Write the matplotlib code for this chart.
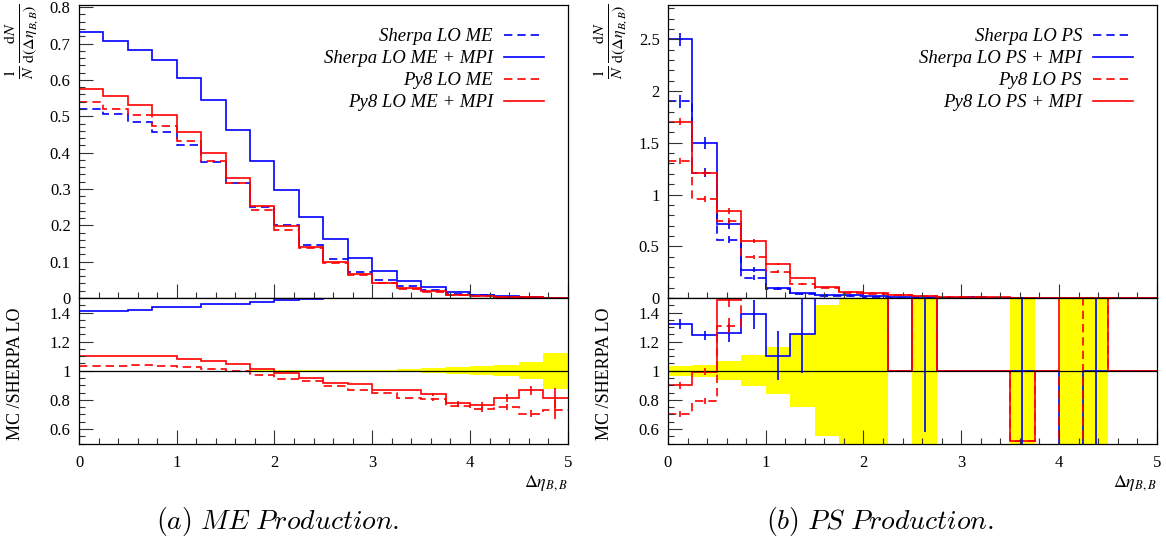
import numpy as np
import matplotlib
matplotlib.use('Agg')
import matplotlib.pyplot as plt
from matplotlib.ticker import MultipleLocator, FuncFormatter

plt.rcParams['font.family'] = ['Liberation Serif', 'DejaVu Serif']
plt.rcParams['mathtext.fontset'] = 'stix'

# bin edges in Delta eta_{B,B}
edges = [0, 0.25, 0.5, 0.75, 1.0, 1.25, 1.5, 1.75, 2.0, 2.25, 2.5,
         2.75, 3.0, 3.25, 3.5, 3.75, 4.0, 4.25, 4.5, 4.75, 5.0]

# ---- (a) ME production, normalised distributions
sherpa_me = [0.521, 0.505, 0.484, 0.457, 0.422, 0.373, 0.317, 0.250, 0.200, 0.147,
             0.108, 0.072, 0.049, 0.032, 0.021, 0.012, 0.007, 0.004, 0.002, 0.001]
sherpa_me_mpi = [0.731, 0.707, 0.683, 0.655, 0.605, 0.545, 0.462, 0.377, 0.298, 0.223,
                 0.161, 0.110, 0.074, 0.047, 0.029, 0.017, 0.009, 0.005, 0.003, 0.001]
py8_me = [0.538, 0.521, 0.503, 0.472, 0.433, 0.377, 0.315, 0.243, 0.188, 0.137,
          0.097, 0.062, 0.042, 0.026, 0.017, 0.009, 0.005, 0.003, 0.0014, 0.0007]
py8_me_mpi = [0.574, 0.556, 0.532, 0.503, 0.457, 0.398, 0.331, 0.253, 0.197, 0.140,
              0.099, 0.065, 0.042, 0.028, 0.018, 0.009, 0.005, 0.003, 0.002, 0.001]

# (a) ratio to Sherpa LO ME
rat_me_mpi = [1.410, 1.410, 1.417, 1.438, 1.438, 1.456, 1.461, 1.475, 1.484, 1.493,
              1.500, 1.53, 1.56, 1.58, 1.60, 1.62, 1.65, 1.68, 1.70, 1.72]
rat_py8_me = [1.032, 1.032, 1.039, 1.032, 1.025, 1.011, 0.995, 0.972, 0.940, 0.929,
              0.894, 0.867, 0.849, 0.810, 0.803, 0.761, 0.734, 0.750, 0.704, 0.732]
rat_py8_me_err = [0, 0, 0, 0, 0, 0, 0, 0, 0, 0,
                  0, 0, 0, 0, 0.008, 0.012, 0.02, 0.02, 0.025, 0.065]
rat_py8_me_mpi = [1.101, 1.100, 1.100, 1.098, 1.083, 1.067, 1.044, 1.011, 0.984, 0.952,
                  0.917, 0.906, 0.867, 0.865, 0.837, 0.778, 0.764, 0.812, 0.865, 0.812]
rat_py8_me_mpi_err = [0, 0, 0, 0, 0, 0, 0, 0, 0, 0,
                      0, 0, 0, 0, 0.008, 0.012, 0.02, 0.025, 0.03, 0.07]
band_me = [0.001, 0.001, 0.001, 0.001, 0.001, 0.001, 0.001, 0.002, 0.002, 0.003,
           0.003, 0.004, 0.008, 0.01, 0.018, 0.023, 0.03, 0.038, 0.058, 0.123]

# ---- (b) PS production, normalised distributions
sherpa_ps = [1.900, 1.210, 0.565, 0.197, 0.088, 0.036, 0.018, 0.015, 0.010, 0.0,
             0.004, 0.0, 0.0, 0.0, 0.003, 0.0, 0.003, 0.003, 0.0, 0.0]
sherpa_ps_err = [0.06, 0.045, 0.035, 0.025, 0.012, 0.008, 0.005, 0.005, 0.004, 0,
                 0.003, 0, 0, 0, 0.002, 0, 0.002, 0.002, 0, 0]
sherpa_ps_mpi = [2.500, 1.500, 0.713, 0.273, 0.094, 0.045, 0.030, 0.030, 0.016, 0.006,
                 0.007, 0.004, 0.013, 0.002, 0.003, 0.002, 0.001, 0.003, 0.001, 0.001]
sherpa_ps_mpi_err = [0.065, 0.06, 0.045, 0.025, 0.012, 0.008, 0.006, 0.006, 0.005, 0.003,
                     0.004, 0.002, 0.006, 0.002, 0.002, 0.001, 0.001, 0.002, 0.001, 0.001]
py8_ps = [1.325, 0.957, 0.745, 0.400, 0.255, 0.135, 0.100, 0.050, 0.040, 0.028,
          0.018, 0.012, 0.007, 0.004, 0.002, 0.002, 0.0, 0.004, 0.002, 0.001]
py8_ps_err = [0.03, 0.03, 0.03, 0.02, 0.012, 0.008, 0.006, 0.005, 0.004, 0.003,
              0.003, 0.002, 0.002, 0.001, 0.001, 0.001, 0, 0.001, 0.001, 0.001]
py8_ps_mpi = [1.705, 1.206, 0.841, 0.554, 0.329, 0.190, 0.103, 0.061, 0.045, 0.030,
              0.020, 0.013, 0.008, 0.005, 0.002, 0.003, 0.004, 0.004, 0.002, 0.001]
py8_ps_mpi_err = [0.03, 0.03, 0.03, 0.02, 0.012, 0.008, 0.006, 0.005, 0.004, 0.003,
                  0.003, 0.002, 0.002, 0.001, 0.001, 0.001, 0.001, 0.001, 0.001, 0.001]

# (b) ratio to Sherpa LO PS (values above 1.5 run off the panel)
rat_ps_mpi = [1.323, 1.243, 1.259, 1.388, 1.103, 1.252, 1.6, 1.8, 1.6, 1.0,
              1.7, 1.0, 1.0, 1.0, 1.0, 1.0, 0.3, 1.0, 1.0, 1.0]
rat_ps_mpi_err = [0.035, 0.03, 0.06, 0.10, 0.17, 0.27, 0, 0, 0, 0,
                  1.12, 0, 0, 0, 0.6, 0, 0, 0.6, 0, 0]
rat_py8_ps = [0.70, 0.79, 1.31, 2.0, 2.9, 3.7, 5.0, 3.3, 4.0, 1.0,
              4.0, 1.0, 1.0, 1.0, 0.52, 1.0, 0.0, 4.0, 1.0, 1.0]
rat_py8_ps_err = [0.02, 0.02, 0.05, 0, 0, 0, 0, 0, 0, 0,
                  0, 0, 0, 0, 0, 0, 0, 0, 0, 0]
rat_py8_ps_mpi = [0.901, 0.993, 1.487, 2.8, 3.7, 5.0, 5.0, 4.0, 4.0, 1.0,
                  4.0, 1.0, 1.0, 1.0, 0.52, 1.0, 4.0, 4.0, 1.0, 1.0]
rat_py8_ps_mpi_err = [0.023, 0.025, 0.05, 0, 0, 0, 0, 0, 0, 0,
                      0, 0, 0, 0, 0, 0, 0, 0, 0, 0]
band_ps = [0.033, 0.042, 0.065, 0.105, 0.16, 0.25, 0.45, 0.8, 0.8, 0,
           0.8, 0, 0, 0, 0.8, 0, 0.8, 0.8, 0, 0]

labels_me = ['Sherpa LO ME', 'Sherpa LO ME + MPI', 'Py8 LO ME', 'Py8 LO ME + MPI']
labels_ps = ['Sherpa LO PS', 'Sherpa LO PS + MPI', 'Py8 LO PS', 'Py8 LO PS + MPI']

BLUE = '#0000ff'
RED = '#ff0000'
DASH = (0, (5, 3))
LW = 1.2

edges = np.array(edges)
centers = 0.5 * (edges[:-1] + edges[1:])

W, H = 1166, 547
fig = plt.figure(figsize=(W / 100, H / 100), dpi=100)


def rect(x0, x1, y0, y1):
    return [x0 / W, 1 - y1 / H, (x1 - x0) / W, (y1 - y0) / H]


fmt = FuncFormatter(lambda v, p: '%g' % round(v, 3))


def style(ax):
    ax.tick_params(which='both', direction='in', top=False, right=False,
                   labelsize=12, width=0.8, color='#333333')
    ax.tick_params(which='major', length=10, pad=6)
    ax.tick_params(which='minor', length=4.5)
    ax.xaxis.set_major_locator(MultipleLocator(1))
    ax.xaxis.set_minor_locator(MultipleLocator(0.2))
    ax.xaxis.set_major_formatter(fmt)
    ax.yaxis.set_major_formatter(fmt)
    ax.set_xlim(0, 5)
    for s in ax.spines.values():
        s.set_linewidth(0.9)


def draw_panel(xl, xr, series, errs, ratios, ratio_errs, band, labels,
               ytop, ymaj, ymin_, caption, capx):
    ax = fig.add_axes(rect(xl, xr, 5, 298))
    rx = fig.add_axes(rect(xl, xr, 298, 443.5), sharex=ax)
    styles = [(BLUE, DASH), (BLUE, '-'), (RED, DASH), (RED, '-')]
    for vals, err, lab, (c, ls) in zip(series, errs, labels, styles):
        ax.stairs(vals, edges, baseline=None, color=c, linestyle=ls, lw=LW, label=lab)
        if err is not None:
            ax.errorbar(centers, vals, yerr=err, fmt='none', ecolor=c, elinewidth=LW)
    ax.set_ylim(0, ytop)
    ax.yaxis.set_major_locator(MultipleLocator(ymaj))
    ax.yaxis.set_minor_locator(MultipleLocator(ymin_))
    style(ax)
    ax.tick_params(labelbottom=False)
    ax.legend(loc='upper right', bbox_to_anchor=(1 - 24 / (xr - xl), 1 - 23 / 293),
              markerfirst=False, frameon=False, handlelength=2.1,
              handletextpad=0.6, labelspacing=0.26, borderpad=0, borderaxespad=0,
              prop={'style': 'italic', 'size': 13.5})
    fig.text((xl - 57) / W, 1 - 4 / H,
             r'$\frac{1}{N}\,\frac{\mathrm{d}N}{\mathrm{d}(\Delta\eta_{B,B})}$',
             rotation=90, ha='center', va='top', fontsize=16.5)

    # ratio panel
    band = np.array(band)
    rx.stairs(1 + band, edges, baseline=1 - band, fill=True, color='#ffff00', lw=0)
    rx.axhline(1, color='black', lw=0.9)
    for vals, err, (c, ls) in zip(ratios, ratio_errs, styles[1:]):
        rx.stairs(vals, edges, baseline=None, color=c, linestyle=ls, lw=LW)
        if err is not None:
            rx.errorbar(centers, vals, yerr=err, fmt='none', ecolor=c, elinewidth=LW)
    rx.set_ylim(0.5, 1.5)
    rx.yaxis.set_major_locator(MultipleLocator(0.2))
    rx.yaxis.set_minor_locator(MultipleLocator(0.05))
    style(rx)
    rx.tick_params(axis='x', pad=8)
    rx.set_ylabel('MC /SHERPA LO', fontsize=13)
    rx.yaxis.set_label_coords(-(xl - (xl - 55)) / (xr - xl), 0.48)
    rx.set_xlabel(r'$\Delta\eta_{B,B}$', fontsize=13, loc='right', labelpad=2)
    fig.text(capx / W, 1 - 522 / H, caption, ha='center', va='center',
             fontsize=20, math_fontfamily='cm')


draw_panel(79, 567.7,
           [sherpa_me, sherpa_me_mpi, py8_me, py8_me_mpi], [None] * 4,
           [rat_me_mpi, rat_py8_me, rat_py8_me_mpi],
           [None, rat_py8_me_err, rat_py8_me_mpi_err],
           band_me, labels_me, 0.806, 0.1, 0.02,
           r'$\mathit{(a)\ ME\ Production.}$', 278)

draw_panel(668, 1156.7,
           [sherpa_ps, sherpa_ps_mpi, py8_ps, py8_ps_mpi],
           [sherpa_ps_err, sherpa_ps_mpi_err, py8_ps_err, py8_ps_mpi_err],
           [rat_ps_mpi, rat_py8_ps, rat_py8_ps_mpi],
           [rat_ps_mpi_err, rat_py8_ps_err, rat_py8_ps_mpi_err],
           band_ps, labels_ps, 2.831, 0.5, 0.1,
           r'$\mathit{(b)\ PS\ Production.}$', 880)

fig.savefig('out.png', dpi=100)
